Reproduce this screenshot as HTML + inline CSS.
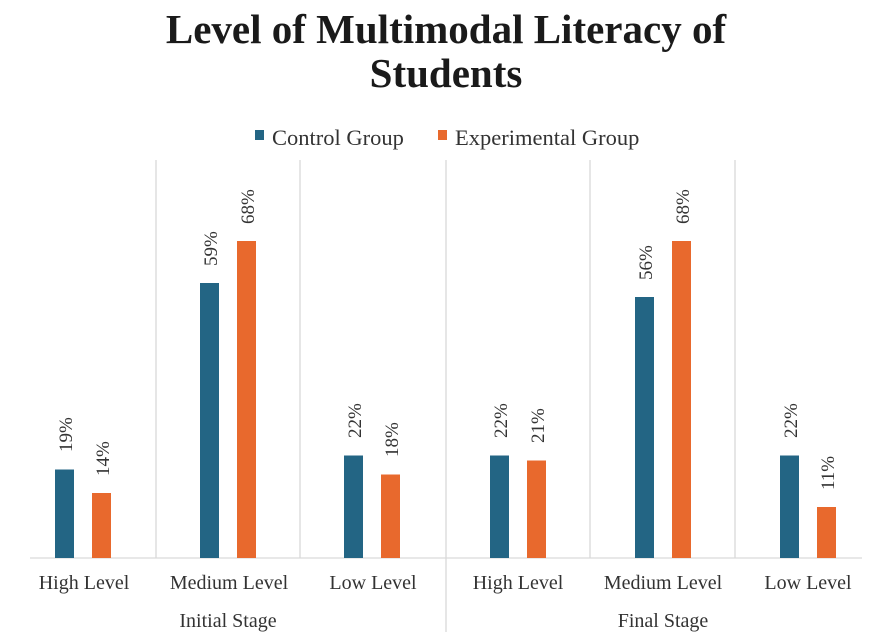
<!DOCTYPE html>
<html><head><meta charset="utf-8"><style>
html,body{margin:0;padding:0;background:#fff;}
svg{display:block;font-family:"Liberation Serif",serif;}
</style></head><body>
<svg width="871" height="642" viewBox="0 0 871 642" xmlns="http://www.w3.org/2000/svg">
<rect width="871" height="642" fill="#fff"/>
<g font-weight="bold" font-size="41" fill="#1a1a1a" text-anchor="middle">
<text x="446" y="43">Level of Multimodal Literacy of</text>
<text x="446" y="87">Students</text>
</g>
<g font-size="22.5" fill="#333">
<rect x="255" y="130" width="9" height="10" fill="#236584"/>
<text x="272" y="145">Control Group</text>
<rect x="438" y="130" width="9" height="10" fill="#E8692D"/>
<text x="455" y="145">Experimental Group</text>
</g>
<g stroke="#d9d9d9" stroke-width="1.3">
<line x1="156" y1="160" x2="156" y2="558"/>
<line x1="300" y1="160" x2="300" y2="558"/>
<line x1="446" y1="160" x2="446" y2="632"/>
<line x1="590" y1="160" x2="590" y2="558"/>
<line x1="735" y1="160" x2="735" y2="558"/>
<line x1="30" y1="558" x2="862" y2="558"/>
</g>
<g fill="#236584">
<rect x="55" y="469.5" width="19" height="88.5"/>
<rect x="200" y="283" width="19" height="275"/>
<rect x="344" y="455.5" width="19" height="102.5"/>
<rect x="490" y="455.5" width="19" height="102.5"/>
<rect x="635" y="297" width="19" height="261"/>
<rect x="780" y="455.5" width="19" height="102.5"/>
</g>
<g fill="#E8692D">
<rect x="92" y="493" width="19" height="65"/>
<rect x="237" y="241" width="19" height="317"/>
<rect x="381" y="474.5" width="19" height="83.5"/>
<rect x="527" y="460.5" width="19" height="97.5"/>
<rect x="672" y="241" width="19" height="317"/>
<rect x="817" y="507" width="19" height="51"/>
</g>
<g font-size="19" fill="#333">
<text transform="translate(72,452) rotate(-90)">19%</text>
<text transform="translate(109,476) rotate(-90)">14%</text>
<text transform="translate(217,266) rotate(-90)">59%</text>
<text transform="translate(254,224) rotate(-90)">68%</text>
<text transform="translate(361,438) rotate(-90)">22%</text>
<text transform="translate(398,457) rotate(-90)">18%</text>
<text transform="translate(507,438) rotate(-90)">22%</text>
<text transform="translate(544,443) rotate(-90)">21%</text>
<text transform="translate(652,280) rotate(-90)">56%</text>
<text transform="translate(689,224) rotate(-90)">68%</text>
<text transform="translate(797,438) rotate(-90)">22%</text>
<text transform="translate(834,490) rotate(-90)">11%</text>
</g>
<g font-size="20" fill="#333" text-anchor="middle">
<text x="84" y="589">High Level</text>
<text x="229" y="589">Medium Level</text>
<text x="373" y="589">Low Level</text>
<text x="518" y="589">High Level</text>
<text x="663" y="589">Medium Level</text>
<text x="808" y="589">Low Level</text>
<text x="228" y="627">Initial Stage</text>
<text x="663" y="627">Final Stage</text>
</g>
</svg>
</body></html>
